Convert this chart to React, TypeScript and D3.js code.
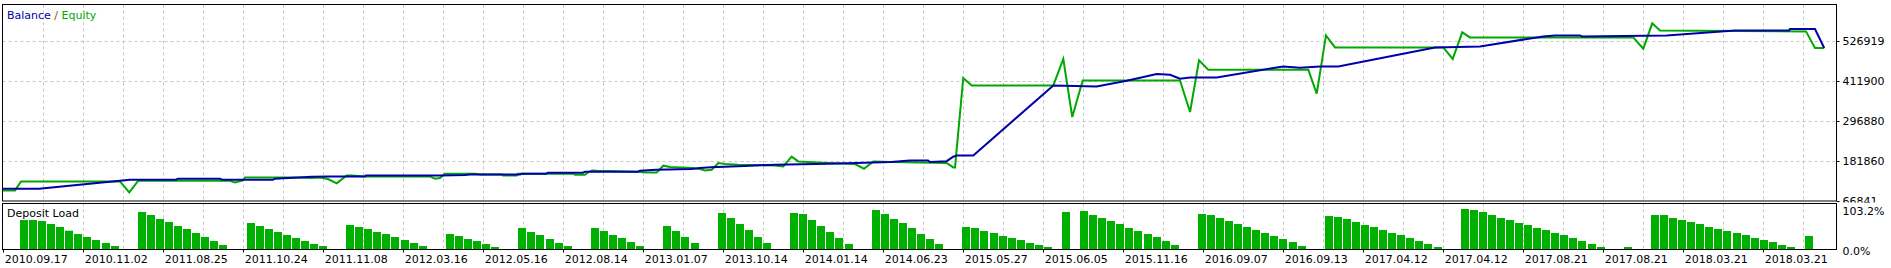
import React from "react";
import * as d3 from "d3";

// ---- data ----
const xLabels = [
  "2010.09.17", "2010.11.02", "2011.08.25", "2011.10.24", "2011.11.08", "2012.03.16",
  "2012.05.16", "2012.08.14", "2013.01.07", "2013.10.14", "2014.01.14", "2014.06.23",
  "2015.05.27", "2015.06.05", "2015.11.16", "2016.09.07", "2016.09.13", "2017.04.12",
  "2017.04.12", "2017.08.21", "2017.08.21", "2018.03.21", "2018.03.21",
];
const yTicks = [66841, 181860, 296880, 411900, 526919];
const loadTicks = [0, 103.2];

// [trade index, balance]
const balance: [number, number][] = [
  [-2.35, 101346], [1.66, 101346], [11.7, 127226], [16.77, 127226], [17.0, 130102],
  [21.63, 130102], [21.85, 127226], [27.48, 127226], [27.7, 130102], [29.69, 132977],
  [31.78, 135852], [33.77, 136715], [37.63, 136715], [37.74, 139591], [45.91, 139591],
  [48.67, 140741], [49.22, 142466], [54.74, 142466], [54.96, 144479], [57.61, 144479],
  [57.83, 147354], [61.69, 147354], [61.91, 150230], [67.76, 150230], [67.98, 153105],
  [69.75, 155981], [73.61, 157994], [74.61, 160869], [75.82, 163170], [78.8, 166045],
  [80.79, 168346], [82.88, 170358], [88.73, 173234], [91.82, 175247], [95.68, 178122],
  [97.78, 182723], [99.77, 182723], [99.99, 178122], [101.83, 180423], [102.56, 193362],
  [102.93, 197101], [104.77, 197101], [113.6, 398386], [118.38, 395510], [121.7, 411900],
  [125.01, 431166], [126.48, 429153], [127.58, 417651], [128.69, 421390], [131.63, 421390],
  [138.98, 453020], [140.82, 449282], [143.03, 453020], [145.05, 453020], [155.72, 507655],
  [160.69, 510530], [167.67, 539285], [168.96, 542161], [171.72, 542161], [171.94, 539285],
  [181.29, 542161], [188.83, 556538], [194.79, 556538], [194.9, 560564], [197.66, 560564],
  [198.68, 505929],
];

// [trade index, equity]
const equity: [number, number][] = [
  [-2.35, 96458], [-0.99, 96458], [-0.33, 122338], [10.59, 122338], [11.62, 90707],
  [12.61, 124350], [22.73, 124350], [23.29, 119461], [24.17, 125213], [24.39, 133840],
  [29.69, 133840], [31.78, 132114], [32.67, 133840], [33.55, 129239], [34.51, 116587],
  [35.61, 139591], [36.17, 139591], [37.74, 136715], [44.81, 136715], [45.36, 130102],
  [45.91, 132114], [46.46, 144479], [49.77, 144479], [50.33, 142466], [52.72, 142466],
  [52.86, 139591], [54.38, 139591], [54.52, 144479], [60.59, 144479], [60.81, 141604],
  [61.91, 141604], [62.24, 148217], [62.69, 153968], [63.24, 153105], [67.76, 150230],
  [68.72, 148217], [69.83, 148217], [70.56, 167483], [71.29, 163745], [73.69, 160869],
  [74.61, 157994], [75.16, 153968], [75.9, 155981], [76.63, 175247], [77.36, 172371],
  [78.83, 170358], [82.88, 168346], [83.8, 165470], [84.72, 193362], [85.45, 179843],
  [88.76, 175247], [91.71, 172371], [92.7, 158856], [93.73, 179843], [95.76, 178122],
  [101.83, 175247], [102.56, 162598], [102.75, 162598], [103.66, 419664], [104.59, 398386],
  [113.6, 398386], [114.7, 474299], [115.69, 307520], [116.84, 412763], [127.58, 412763],
  [128.69, 321897], [129.68, 470273], [130.7, 443531], [141.74, 443531], [142.67, 374519],
  [143.69, 542161], [144.69, 507655], [156.64, 507655], [157.68, 474299], [158.73, 550787],
  [159.58, 536410], [177.61, 536410], [178.71, 503916], [179.7, 576817], [180.55, 556538],
  [196.67, 553663], [197.66, 505929], [198.68, 505929],
];

// deposit load per trade slot, %
const depositLoad = [
  74.8, 74.8, 72.2, 64.5, 56.8, 47.2, 38.7, 31.0, 23.2, 15.5, 7.7,
  0, 0,
  95.5, 87.7, 77.4, 69.7, 59.3, 51.6, 41.3, 31.0, 20.6, 10.3,
  0, 0,
  67.1, 59.3, 51.6, 43.9, 36.1, 28.4, 20.6, 12.9, 7.7,
  0, 0,
  61.9, 56.8, 51.6, 43.9, 38.7, 31.0, 23.2, 15.5, 7.7,
  0, 0,
  38.7, 33.5, 25.8, 20.6, 12.9, 5.2,
  0, 0,
  54.2, 43.9, 36.1, 25.8, 15.5, 7.7,
  0, 0,
  54.2, 46.4, 36.1, 28.4, 18.1, 7.7,
  0, 0,
  59.3, 46.4, 31.0, 15.5,
  0, 0,
  92.9, 80.0, 64.5, 49.0, 31.0, 15.5,
  0, 0,
  92.9, 90.3, 74.8, 59.3, 43.9, 28.4, 12.9,
  0, 0,
  100.6, 90.3, 77.4, 67.1, 54.2, 38.7, 25.8, 12.9,
  0, 0,
  56.8, 54.2, 46.4, 41.3, 33.5, 28.4, 23.2, 15.5, 10.3, 5.2,
  0,
  95.5,
  0,
  98.0, 87.7, 80.0, 72.2, 64.5, 54.2, 46.4, 38.7, 31.0, 20.6, 10.3,
  0, 0,
  90.3, 87.7, 80.0, 72.2, 64.5, 56.8, 49.0, 41.3, 33.5, 25.8, 18.1, 7.7,
  0, 0,
  85.1, 82.6, 77.4, 69.7, 61.9, 56.8, 49.0, 41.3, 36.1, 28.4, 20.6, 12.9, 5.2,
  0, 0,
  103.2, 100.6, 95.5, 87.7, 80.0, 74.8, 67.1, 61.9, 54.2, 49.0, 41.3, 36.1, 28.4, 20.6, 12.9, 5.2,
  0, 0,
  5.2,
  0, 0,
  87.7, 87.7, 80.0, 74.8, 69.7, 64.5, 56.8, 51.6, 46.4, 41.3, 36.1, 28.4, 23.2, 18.1, 10.3, 5.2,
  0,
  33.5,
];

// ---- layout ----
const W = 1891;
const H = 268;
const L = 2.5;
const R = 1836.5;
const MAIN_TOP = 4.5;
const MAIN_BOT = 201;
const LOAD_TOP = 203.5;
const LOAD_BOT = 249.5;
const FONT = "'DejaVu Sans', Verdana, sans-serif";

const BAL_COLOR = "#0000a8";
const EQ_COLOR = "#00a800";
const BAR_COLOR = "#00b000";
const GRID = "#c4c4c4";

export default function App() {
  const x = d3.scaleLinear().domain([0, 197]).range([24, 1809]);
  const y = d3.scaleLinear().domain([66841, 526919]).range([200.7, 40.7]);
  const yLoad = d3.scaleLinear().domain([0, 103.2]).range([249, 209]);
  const tickX = d3.scaleLinear().domain([0, xLabels.length - 1]).range([3.3, 1763.3]);

  const line = d3
    .line<[number, number]>()
    .x((d) => x(d[0]))
    .y((d) => y(d[1]));

  const gridXs = d3.range(1, 46).map((m) => Math.round(tickX(m / 2)) + 0.5);

  return (
    <svg
      width={W}
      height={H}
      style={{ position: "absolute", left: 0, top: 0, background: "#fff" }}
      fontFamily={FONT}
      fontSize={11}
    >
      <defs>
        <clipPath id="mainClip">
          <rect x={L} y={MAIN_TOP} width={R - L} height={MAIN_BOT - MAIN_TOP} />
        </clipPath>
        <clipPath id="axisClip">
          <rect x={R} y={0} width={W - R} height={202.5} />
        </clipPath>
      </defs>
      <rect x={0} y={0} width={W} height={H} fill="#fff" />

      {/* vertical grid */}
      {gridXs.map((gx, i) => (
        <g key={"vg" + i}>
          <line x1={gx} x2={gx} y1={MAIN_TOP} y2={MAIN_BOT} stroke={GRID} strokeDasharray="3,3" />
          <line x1={gx} x2={gx} y1={LOAD_TOP} y2={LOAD_BOT} stroke={GRID} strokeDasharray="3,3" />
        </g>
      ))}
      {/* horizontal grid */}
      {yTicks.slice(1).map((t) => (
        <line
          key={"hg" + t}
          x1={L}
          x2={R}
          y1={Math.round(y(t)) + 0.5}
          y2={Math.round(y(t)) + 0.5}
          stroke={GRID}
          strokeDasharray="3,3"
        />
      ))}

      {/* deposit load bars */}
      {depositLoad.map((v, k) =>
        v > 0 ? (
          <rect
            key={"b" + k}
            x={Math.round(x(k) - 4)}
            y={yLoad(v)}
            width={8}
            height={yLoad(0) - yLoad(v)}
            fill={BAR_COLOR}
          />
        ) : null
      )}

      {/* lines */}
      <g clipPath="url(#mainClip)">
        <path d={line(equity) || ""} fill="none" stroke={EQ_COLOR} strokeWidth={2} strokeLinejoin="miter" />
        <path d={line(balance) || ""} fill="none" stroke={BAL_COLOR} strokeWidth={2} strokeLinejoin="miter" />
      </g>

      {/* borders */}
      <rect x={L} y={MAIN_TOP} width={R - L} height={MAIN_BOT - MAIN_TOP} fill="none" stroke="#000" strokeWidth={1} />
      <rect x={L} y={LOAD_TOP} width={R - L} height={LOAD_BOT - LOAD_TOP} fill="none" stroke="#000" strokeWidth={1} />

      {/* legend */}
      <text x={7} y={18.5}>
        <tspan fill={BAL_COLOR}>Balance</tspan>
        <tspan fill="#7a5a00"> / </tspan>
        <tspan fill={EQ_COLOR}>Equity</tspan>
      </text>
      <text x={7} y={217} fill="#000">Deposit Load</text>

      {/* right axis main */}
      <g clipPath="url(#axisClip)">
        {yTicks.map((t) => (
          <g key={"yt" + t}>
            <line x1={R} x2={R + 3} y1={Math.round(y(t)) + 0.5} y2={Math.round(y(t)) + 0.5} stroke="#000" />
            <text x={1842.5} y={y(t) + 1.2} dominantBaseline="central" fill="#000">
              {t}
            </text>
          </g>
        ))}
      </g>
      {/* right axis load */}
      {loadTicks.map((t) => (
        <text key={"lt" + t} x={1842.5} y={yLoad(t) + 2.5} dominantBaseline="central" fill="#000">
          {t.toFixed(1) + "%"}
        </text>
      ))}

      {/* bottom axis */}
      {xLabels.map((lab, j) => (
        <g key={"xl" + j}>
          <line
            x1={Math.round(tickX(j)) + 0.5}
            x2={Math.round(tickX(j)) + 0.5}
            y1={LOAD_BOT}
            y2={LOAD_BOT + 3}
            stroke="#000"
          />
          <text x={tickX(j) + 1.5} y={263} fill="#000">
            {lab}
          </text>
        </g>
      ))}
    </svg>
  );
}
